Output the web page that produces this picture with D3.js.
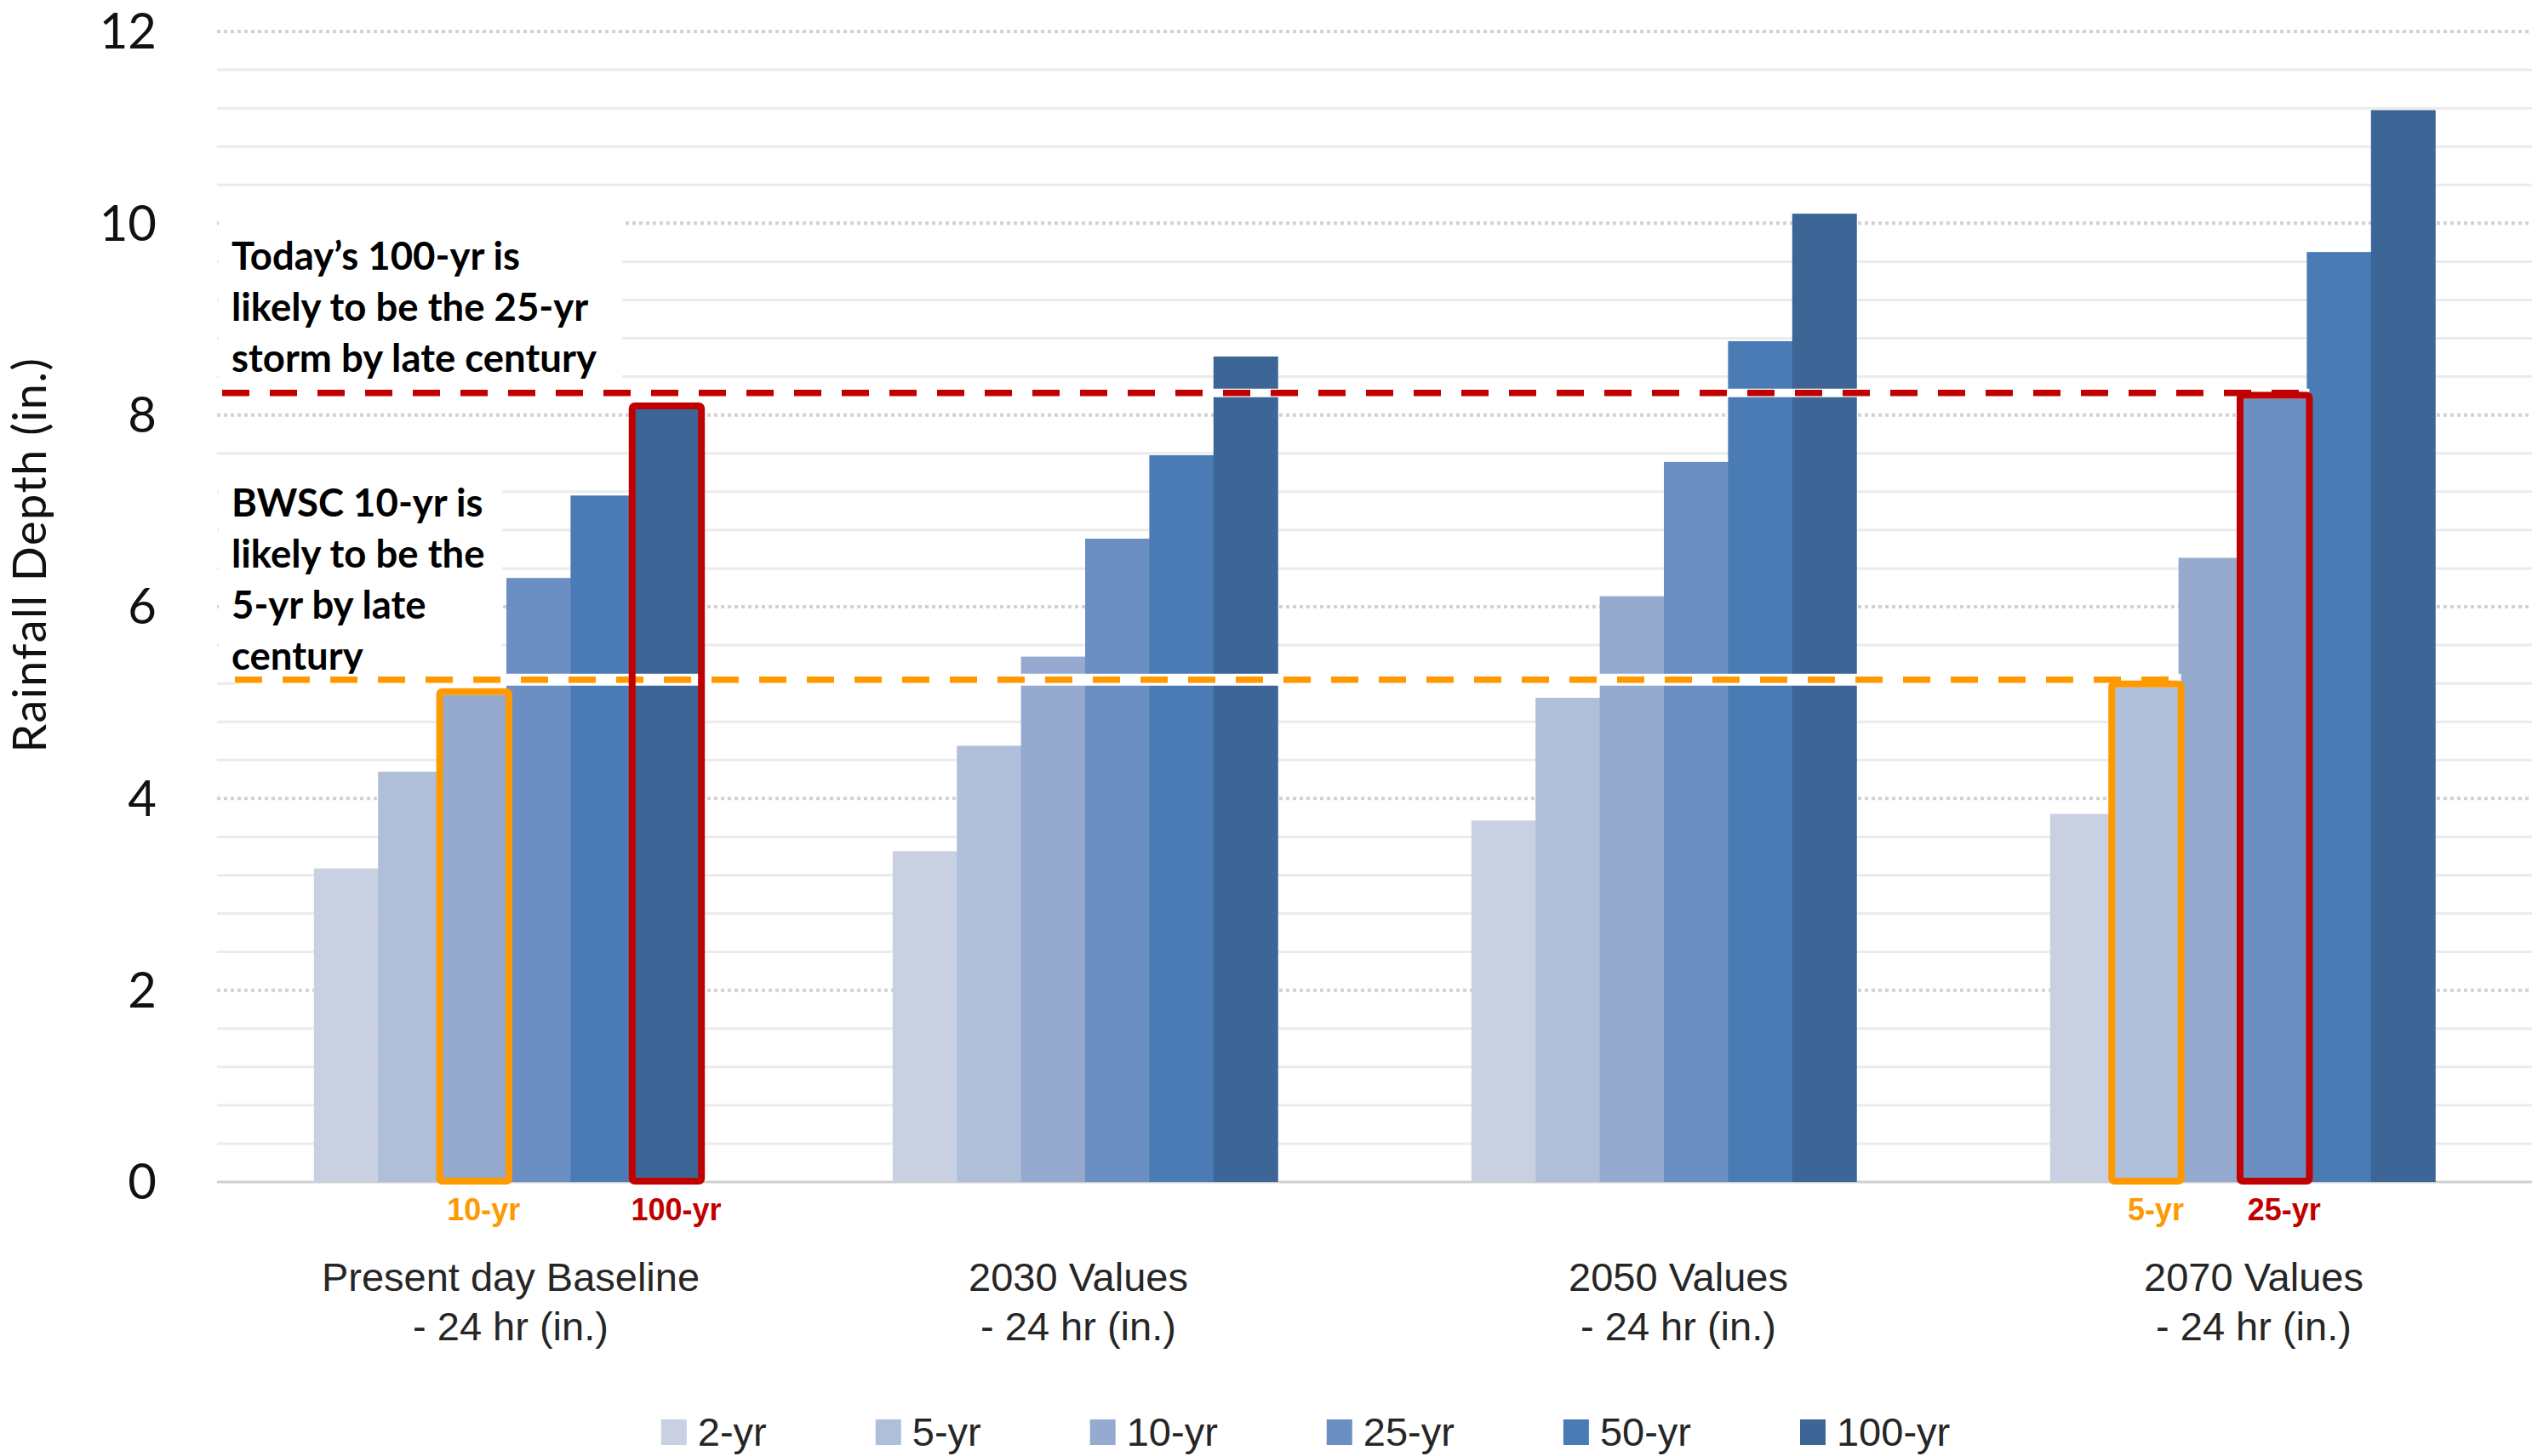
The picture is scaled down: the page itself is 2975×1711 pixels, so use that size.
<!DOCTYPE html>
<html>
<head>
<meta charset="utf-8">
<script src="https://cdn.jsdelivr.net/npm/d3@7"></script>
<style>
  body { margin: 0; background: #fff; }
</style>
</head>
<body>
<div id="chart"></div>
<script>
// data
const groups = ["Present day Baseline", "2030 Values", "2050 Values", "2070 Values"];
const groupSub = "- 24 hr (in.)";
const periods = ["2-yr", "5-yr", "10-yr", "25-yr", "50-yr", "100-yr"];

const baseline = [3.27, 4.28, 5.08, 6.30, 7.16, 8.06];
const v2030    = [3.45, 4.55, 5.48, 6.71, 7.58, 8.61];
const v2050    = [3.77, 5.05, 6.11, 7.51, 8.77, 10.10];
const v2070    = [3.84, 5.16, 6.51, 8.17, 9.70, 11.18];
const seriesByGroup = [baseline, v2030, v2050, v2070];

const yTicks = [0, 2, 4, 6, 8, 10, 12];

// the two dashed reference levels and where they stop
const refValues = [8.23, 5.24];
const refEnds = [["2070 Values", "25-yr"], ["2070 Values", "5-yr"]];

// boxed bars with their small labels
const highlights = [
  ["Present day Baseline", "10-yr", "orange"],
  ["Present day Baseline", "100-yr", "red"],
  ["2070 Values", "5-yr", "orange"],
  ["2070 Values", "25-yr", "red"]
];

const note1 = ["Today\u2019s 100-yr is", "likely to be the 25-yr", "storm by late century"];
const note2 = ["BWSC 10-yr is", "likely to be the", "5-yr by late", "century"];

// styles / layout
const colors = ["#c8d0e2", "#afbfd9", "#95aace", "#6b8fc2", "#4a7bb5", "#3d6697"];
const accent = { red: "#c00000", orange: "#ff9900" };
const catShift = [5, -8, 17, 13]; // the category labels are not quite centred in the original
const W = 2975, H = 1711;
const plotLeft = 255, plotRight = 2975, plotTop = 37, plotBottom = 1389;

const svg = d3.select("#chart").append("svg")
    .attr("width", W)
    .attr("height", H);

const x0 = d3.scaleBand()
    .domain(groups)
    .range([plotLeft, plotRight])
    .padding(0);

const x1 = d3.scaleBand()
    .domain(periods)
    .range([0, x0.bandwidth()])
    .paddingInner(0)
    .paddingOuter(1.51);

const y = d3.scaleLinear()
    .domain([0, 12])
    .range([plotBottom, plotTop]);

const color = d3.scaleOrdinal().domain(periods).range(colors);

// minor gridlines every 0.4
const minor = d3.range(1, 31).map(i => +(i * 0.4).toFixed(1)).filter(v => Math.abs(v / 2 - Math.round(v / 2)) > 0.01);
svg.append("g")
  .selectAll("line")
  .data(minor)
  .join("line")
    .attr("x1", plotLeft).attr("x2", plotRight)
    .attr("y1", d => y(d)).attr("y2", d => y(d))
    .attr("stroke", "#ebebeb")
    .attr("stroke-width", 3);

// major dotted gridlines
svg.append("g")
  .selectAll("line")
  .data(yTicks.filter(d => d > 0))
  .join("line")
    .attr("x1", plotLeft).attr("x2", plotRight)
    .attr("y1", d => y(d)).attr("y2", d => y(d))
    .attr("stroke", "#d2d2d2")
    .attr("stroke-width", 4)
    .attr("stroke-dasharray", "4,4");

// y axis labels, no domain line
const yAxis = svg.append("g")
    .attr("transform", `translate(${plotLeft},0)`)
    .call(d3.axisLeft(y).tickValues(yTicks).tickSize(0).tickPadding(71));
yAxis.select(".domain").remove();
yAxis.selectAll("text")
    .attr("font-family", "Lato, sans-serif")
    .attr("font-size", 58)
    .attr("fill", "#111")
    .attr("dy", "0.34em");

svg.append("text")
    .attr("transform", "translate(54,652) rotate(-90)")
    .attr("text-anchor", "middle")
    .attr("font-family", "Lato, sans-serif")
    .attr("font-size", 54)
    .attr("letter-spacing", 1.5)
    .attr("fill", "#111")
    .text("Rainfall Depth (in.)");

// white boxes behind the notes hide the gridlines
svg.append("rect").attr("x", plotLeft + 2).attr("y", 252).attr("width", 474).attr("height", 200).attr("fill", "#fff");
svg.append("rect").attr("x", plotLeft + 2).attr("y", 552).attr("width", 333).attr("height", 238).attr("fill", "#fff");

function note(lines, top) {
  svg.append("g").selectAll("text")
    .data(lines)
    .join("text")
      .attr("x", 272)
      .attr("y", (d, i) => top + i * 60)
      .attr("font-family", "Lato, sans-serif")
      .attr("font-weight", 700)
      .attr("font-size", 45.5)
      .attr("fill", "#000")
      .text(d => d);
}
note(note1, 317);
note(note2, 607);

// zero line
svg.append("line")
    .attr("x1", plotLeft).attr("x2", plotRight)
    .attr("y1", y(0)).attr("y2", y(0))
    .attr("stroke", "#d0d0d0")
    .attr("stroke-width", 3);

// bars
svg.append("g")
  .selectAll("g")
  .data(groups)
  .join("g")
    .attr("transform", g => `translate(${x0(g)},0)`)
  .selectAll("rect")
  .data((g, i) => periods.map((p, j) => ({ p, v: seriesByGroup[i][j] })))
  .join("rect")
    .attr("x", d => x1(d.p))
    .attr("y", d => y(d.v))
    .attr("width", x1.bandwidth() + 0.6)
    .attr("height", d => y(0) - y(d.v))
    .attr("fill", d => color(d.p));

// dashed reference lines with a white band under them
const refStyle = [
  { c: accent.red, start: plotLeft + 6, band: 10 },
  { c: accent.orange, start: plotLeft + 21, band: 14 }
];
refValues.forEach((v, i) => {
  const end = x0(refEnds[i][0]) + x1(refEnds[i][1]) + x1.bandwidth() + 3;
  const s = refStyle[i];
  svg.append("line")
      .attr("x1", s.start).attr("x2", end)
      .attr("y1", y(v)).attr("y2", y(v))
      .attr("stroke", "#fff")
      .attr("stroke-width", s.band);
  svg.append("line")
      .attr("x1", s.start).attr("x2", end)
      .attr("y1", y(v)).attr("y2", y(v))
      .attr("stroke", s.c)
      .attr("stroke-width", 7.5)
      .attr("stroke-dasharray", "32,24");
});

// highlight boxes and labels
highlights.forEach(([g, p, c]) => {
  const gi = groups.indexOf(g), pi = periods.indexOf(p);
  const bx = x0(g) + x1(p);
  const by = y(seriesByGroup[gi][pi]);
  svg.append("rect")
      .attr("x", bx - 3)
      .attr("y", by - 4)
      .attr("width", x1.bandwidth() + 6)
      .attr("height", y(0) - by + 3)
      .attr("rx", 3)
      .attr("fill", "none")
      .attr("stroke", accent[c])
      .attr("stroke-width", 8);
  svg.append("text")
      .attr("x", bx + x1.bandwidth() / 2 + 11)
      .attr("y", 1434)
      .attr("text-anchor", "middle")
      .attr("font-family", "'Liberation Sans', Arial, sans-serif")
      .attr("font-weight", 700)
      .attr("font-size", 36)
      .attr("fill", accent[c])
      .text(p);
});

// category labels
const cat = svg.append("g")
  .selectAll("text")
  .data(groups)
  .join("text")
    .attr("text-anchor", "middle")
    .attr("font-family", "'Liberation Sans', Arial, sans-serif")
    .attr("font-size", 47)
    .attr("fill", "#262626");
cat.append("tspan")
    .attr("x", (g, i) => x0(g) + x0.bandwidth() / 2 + catShift[i])
    .attr("y", 1517)
    .text(g => g);
cat.append("tspan")
    .attr("x", (g, i) => x0(g) + x0.bandwidth() / 2 + catShift[i])
    .attr("y", 1575)
    .text(groupSub);

// legend
const legend = svg.append("g");
let lx = 0;
periods.forEach(p => {
  const item = legend.append("g").attr("transform", `translate(${lx},0)`);
  item.append("rect")
      .attr("x", 0).attr("y", -31)
      .attr("width", 30).attr("height", 30)
      .attr("fill", color(p));
  const t = item.append("text")
      .attr("x", 43)
      .attr("font-family", "'Liberation Sans', Arial, sans-serif")
      .attr("font-size", 47)
      .attr("fill", "#262626")
      .text(p);
  lx += 43 + t.node().getComputedTextLength() + 128;
});
const legendWidth = lx - 128;
legend.attr("transform", `translate(${1534 - legendWidth / 2},1699)`);
</script>
</body>
</html>
